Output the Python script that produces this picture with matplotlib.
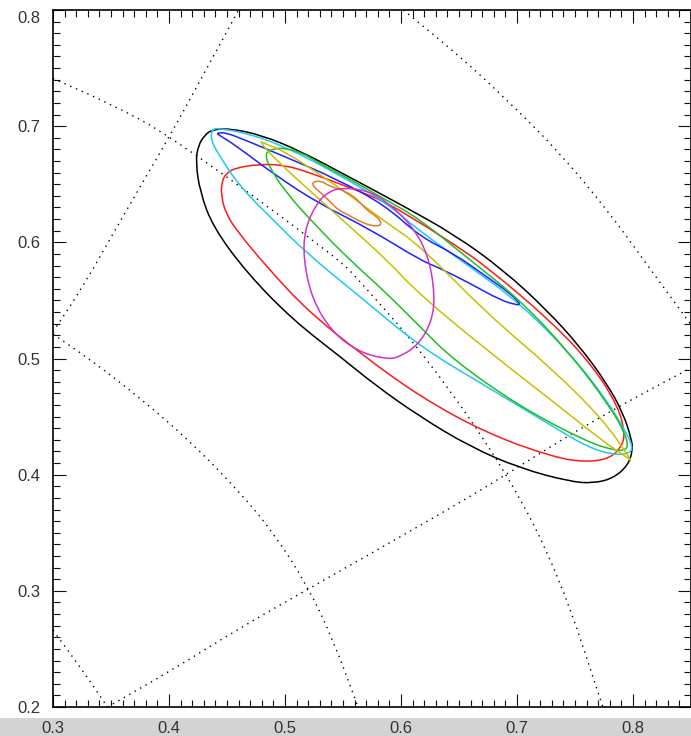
import matplotlib
matplotlib.use("Agg")
import matplotlib.pyplot as plt
from matplotlib.patches import Rectangle, PathPatch
from matplotlib.path import Path
from matplotlib.ticker import MultipleLocator
from matplotlib.transforms import ScaledTranslation

plt.rcParams['font.family'] = ['Liberation Sans', 'DejaVu Sans']

# dotted coordinate grid curves
grid_a_x = [0.300, 0.326, 0.360, 0.401, 0.430, 0.460]
grid_a_y = [0.523, 0.562, 0.622, 0.692, 0.745, 0.800]
grid_b_x = [0.300, 0.335, 0.375, 0.418, 0.461, 0.490, 0.519, 0.541, 0.563]
grid_b_y = [0.521, 0.497, 0.466, 0.429, 0.385, 0.350, 0.305, 0.259, 0.200]
grid_c_x = [0.300, 0.323, 0.347]
grid_c_y = [0.266, 0.235, 0.200]
grid_d_x = [0.347, 0.403, 0.461, 0.519, 0.565, 0.651, 0.692, 0.766, 0.850]
grid_d_y = [0.200, 0.232, 0.268, 0.301, 0.327, 0.376, 0.401, 0.447, 0.492]
grid_e_x = [0.602, 0.651, 0.694, 0.737, 0.780, 0.809, 0.850]
grid_e_y = [0.800, 0.760, 0.720, 0.677, 0.625, 0.585, 0.529]
grid_f_x = [0.300, 0.350, 0.401, 0.545, 0.566, 0.623, 0.692, 0.737, 0.774]
grid_f_y = [0.741, 0.719, 0.692, 0.587, 0.565, 0.500, 0.401, 0.312, 0.200]

# contours
black_x = [0.4511, 0.4799, 0.5144, 0.5575, 0.6006, 0.6466, 0.6882, 0.7256, 0.7543, 0.7773,
           0.7916, 0.7989, 0.7997, 0.7959, 0.7830, 0.7658, 0.7457, 0.7026, 0.6595, 0.6164,
           0.5776, 0.5491, 0.5069, 0.4672, 0.4379, 0.4267, 0.4230, 0.4253, 0.4310, 0.4368]
black_y = [0.6982, 0.6924, 0.6780, 0.6551, 0.6321, 0.6063, 0.5762, 0.5418, 0.5102, 0.4787,
           0.4528, 0.4298, 0.4212, 0.4083, 0.3969, 0.3926, 0.3940, 0.4055, 0.4241, 0.4499,
           0.4772, 0.5004, 0.5331, 0.5736, 0.6132, 0.6436, 0.6694, 0.6838, 0.6924, 0.6967]

red_x = [0.4770, 0.5000, 0.5230, 0.5575, 0.5862, 0.6149, 0.6466, 0.6739, 0.7313, 0.7658,
         0.7873, 0.7931, 0.7902, 0.7802, 0.7601, 0.7313, 0.6739, 0.6164, 0.5647,
         0.5187, 0.4842, 0.4584, 0.4490, 0.4450, 0.4455, 0.4490, 0.4569]
red_y = [0.6672, 0.6666, 0.6594, 0.6465, 0.6350, 0.6178, 0.5977, 0.5790, 0.5303, 0.4930,
         0.4585, 0.4356, 0.4241, 0.4141, 0.4107, 0.4150, 0.4356, 0.4671, 0.5045,
         0.5418, 0.5790, 0.6100, 0.6250, 0.6400, 0.6520, 0.6590, 0.6640]

cyan_x = [0.4425, 0.4655, 0.5000, 0.5431, 0.5862, 0.6155, 0.6595, 0.7026, 0.7457, 0.7773,
          0.7945, 0.7997, 0.7974, 0.7830, 0.7601, 0.7313, 0.6739, 0.6164, 0.5647, 0.5187,
          0.4899, 0.4612, 0.4440, 0.4370, 0.4362, 0.4382]
cyan_y = [0.6980, 0.6945, 0.6825, 0.6600, 0.6350, 0.6100, 0.5790, 0.5475, 0.5045, 0.4643,
          0.4356, 0.4241, 0.4184, 0.4169, 0.4241, 0.4413, 0.4757, 0.5102, 0.5532, 0.5906,
          0.6192, 0.6479, 0.6737, 0.6860, 0.6939, 0.6976]

blue_x = [0.4416, 0.4483, 0.4655, 0.5000, 0.5431, 0.5862, 0.6164, 0.6451, 0.6739, 0.6940,
          0.7020, 0.7020, 0.6997, 0.6853, 0.6595, 0.6308, 0.6164, 0.5718, 0.5287, 0.4914,
          0.4569, 0.4440, 0.4416]
blue_y = [0.6939, 0.6947, 0.6881, 0.6737, 0.6551, 0.6321, 0.6049, 0.5906, 0.5704, 0.5561,
          0.5480, 0.5465, 0.5461, 0.5504, 0.5647, 0.5790, 0.5848, 0.6121, 0.6336, 0.6580,
          0.6838, 0.6918, 0.6935]

green_x = [0.4833, 0.4856, 0.4971, 0.5150, 0.5287, 0.5575, 0.5862, 0.6155, 0.6595, 0.7026,
           0.7457, 0.7802, 0.7931, 0.7959, 0.7916, 0.7830, 0.7601, 0.7026, 0.6451, 0.6164,
           0.5862, 0.5575, 0.5287, 0.5000, 0.4856]
green_y = [0.6752, 0.6790, 0.6818, 0.6770, 0.6685, 0.6535, 0.6370, 0.6205, 0.5848, 0.5504,
           0.5045, 0.4585, 0.4356, 0.4241, 0.4207, 0.4212, 0.4284, 0.4585, 0.4988, 0.5274,
           0.5575, 0.5833, 0.6121, 0.6436, 0.6666]

yellow_x = [0.4793, 0.4800, 0.5000, 0.5287, 0.5575, 0.5862, 0.6164, 0.6739, 0.7313, 0.7744,
            0.7975, 0.7980, 0.7970, 0.7744, 0.7313, 0.6739, 0.6164, 0.5862, 0.5575, 0.5287,
            0.5000, 0.4828, 0.4795]
yellow_y = [0.6866, 0.6862, 0.6780, 0.6594, 0.6393, 0.6178, 0.5971, 0.5389, 0.4901, 0.4471,
            0.4140, 0.4120, 0.4135, 0.4284, 0.4628, 0.5073, 0.5547, 0.5863, 0.6121, 0.6379,
            0.6637, 0.6810, 0.6860]

orange_x = [0.5236, 0.5316, 0.5373, 0.5489, 0.5575, 0.5647, 0.5704, 0.5790, 0.5828, 0.5819,
            0.5747, 0.5661, 0.5546, 0.5460, 0.5402, 0.5316, 0.5244]
orange_y = [0.6522, 0.6528, 0.6488, 0.6451, 0.6408, 0.6345, 0.6278, 0.6221, 0.6178, 0.6141,
            0.6143, 0.6172, 0.6235, 0.6278, 0.6336, 0.6422, 0.6479]

magenta_x = [0.5489, 0.5690, 0.5862, 0.6092, 0.6236, 0.6293, 0.6265, 0.6149, 0.5977, 0.5862,
             0.5632, 0.5402, 0.5230, 0.5158, 0.5172, 0.5273, 0.5373]
magenta_y = [0.6470, 0.6451, 0.6364, 0.6149, 0.5891, 0.5547, 0.5317, 0.5116, 0.5007, 0.4996,
             0.5059, 0.5231, 0.5518, 0.5863, 0.6121, 0.6336, 0.6436]


def smooth_path(xs, ys, closed):
    # quadratic b-spline path through the midpoints of the traced points
    pts = list(zip(xs, ys))
    n = len(pts)
    mid = lambda a, b: ((a[0] + b[0]) / 2, (a[1] + b[1]) / 2)
    if closed:
        verts = [mid(pts[-1], pts[0])]
        codes = [Path.MOVETO]
        for i in range(n):
            verts += [pts[i], mid(pts[i], pts[(i + 1) % n])]
            codes += [Path.CURVE3, Path.CURVE3]
    else:
        verts = [pts[0], mid(pts[0], pts[1])]
        codes = [Path.MOVETO, Path.LINETO]
        for i in range(1, n - 1):
            verts += [pts[i], mid(pts[i], pts[i + 1])]
            codes += [Path.CURVE3, Path.CURVE3]
        verts.append(pts[-1])
        codes.append(Path.LINETO)
    return Path(verts, codes)


fig = plt.figure(figsize=(6.91, 7.36), dpi=100)
fig.patches.append(Rectangle((0, 0), 1, 0.0245, transform=fig.transFigure,
                             facecolor='#d3d3d3', edgecolor='none', zorder=-5))
ax = fig.add_axes([53/691, 1-707/736, 638/691, 697/736])

for gx, gy in [(grid_a_x, grid_a_y), (grid_b_x, grid_b_y), (grid_c_x, grid_c_y),
               (grid_d_x, grid_d_y), (grid_e_x, grid_e_y), (grid_f_x, grid_f_y)]:
    ax.add_patch(PathPatch(smooth_path(gx, gy, False), facecolor='none', edgecolor='black',
                           lw=1.0, linestyle=(0, (1, 3.5))))

contours = [(black_x, black_y, 'black'), (red_x, red_y, '#ff1a1a'),
            (cyan_x, cyan_y, '#1ec8f5'), (blue_x, blue_y, '#2020ff'),
            (green_x, green_y, '#1fbf1f'), (yellow_x, yellow_y, '#c8c000'),
            (orange_x, orange_y, '#e8792a'), (magenta_x, magenta_y, '#cc33cc')]
for cx, cy, col in contours:
    ax.add_patch(PathPatch(smooth_path(cx, cy, True), facecolor='none', edgecolor=col, lw=1.1))

ax.set_xlim(0.3, 0.85)
ax.set_ylim(0.2, 0.8)
ax.xaxis.set_major_locator(MultipleLocator(0.1))
ax.xaxis.set_minor_locator(MultipleLocator(0.01))
ax.yaxis.set_major_locator(MultipleLocator(0.1))
ax.yaxis.set_minor_locator(MultipleLocator(0.01))
ax.tick_params(which='both', direction='in', top=True, right=True, width=0.8, color='#111111')
ax.tick_params(which='major', length=9.4)
ax.tick_params(which='minor', length=4.7)
ax.tick_params(axis='x', pad=10, labelsize=12, labelcolor='#333333')
ax.tick_params(axis='y', pad=9, labelsize=12, labelcolor='#333333')
ax.set_xticks([0.3, 0.4, 0.5, 0.6, 0.7, 0.8])
ax.set_xticklabels(['0.3', '0.4', '0.5', '0.6', '0.7', '0.8'])
ax.set_yticks([0.2, 0.3, 0.4, 0.5, 0.6, 0.7, 0.8])
ax.set_yticklabels(['0.2', '0.3', '0.4', '0.5', '0.6', '0.7', '0.8'])
# top label sits a little below its tick in the original
top_lab = ax.get_yticklabels()[-1]
top_lab.set_transform(top_lab.get_transform() + ScaledTranslation(0, -0.07, fig.dpi_scale_trans))
for s in ax.spines.values():
    s.set_linewidth(1.2)

fig.savefig('out.png', dpi=100)
